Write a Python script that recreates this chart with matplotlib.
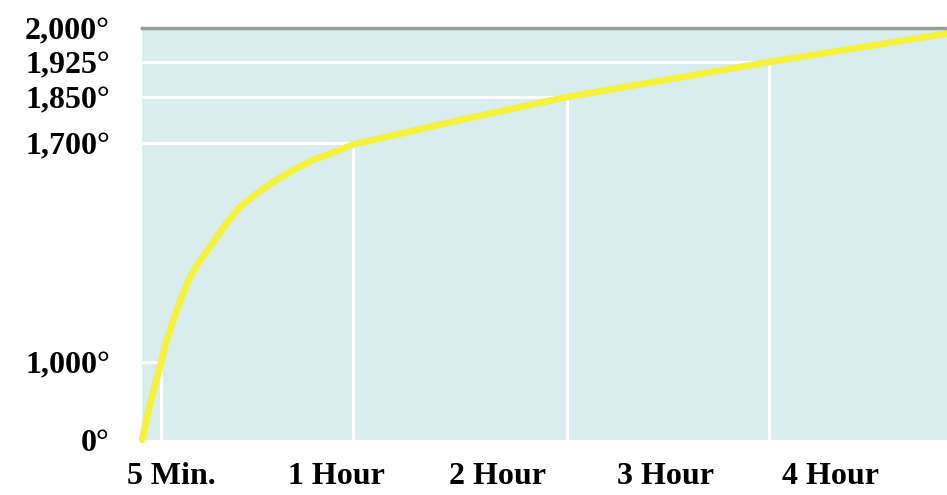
import numpy as np
import matplotlib
matplotlib.use("Agg")
import matplotlib.pyplot as plt

# time-temperature curve (minutes, degrees)
time_min = [0, 2.1, 5, 6.6, 8.5, 10.9, 13.3, 16.2, 19, 23.3, 27.6, 32.4, 37.2,
            42.9, 48.6, 54.4, 60, 90, 120, 180, 232]
temp_deg = [0, 470, 1000, 1070, 1134, 1209, 1273, 1326, 1368, 1438, 1496, 1539,
            1576, 1614, 1646, 1670, 1695, 1775, 1850, 1925, 1988]

# marked points (drop lines)
mark_min = [5, 60, 120, 180]
mark_deg = [1000, 1700, 1850, 1925]

ytick_vals = [0, 1000, 1700, 1850, 1925, 2000]
ytick_labels = ["0°", "1,000°", "1,700°", "1,850°", "1,925°", "2,000°"]
xtick_labels = ["5 Min.", "1 Hour", "2 Hour", "3 Hour", "4 Hour"]

# the drawing is not to a linear scale: piecewise maps
x_knots = [0, 5, 60, 120, 180, 240]
x_pos = [0, 19, 211, 425, 627, 833]
y_knots = [0, 1000, 1700, 1850, 1925, 2000]
y_pos = [0, 78, 297, 343, 378, 412]

def xf(v):
    return np.interp(v, x_knots, x_pos)

def xi(u):
    return np.interp(u, x_pos, x_knots)

def yf(v):
    return np.interp(v, y_knots, y_pos)

def yi(u):
    return np.interp(u, y_pos, y_knots)

plt.rcParams['font.family'] = ['Liberation Serif', 'DejaVu Serif']
plt.rcParams['font.weight'] = 'bold'

fig = plt.figure(figsize=(9.47, 4.95), dpi=100)
ax = fig.add_axes([142/947, 55/495, 805/947, 412/495])
ax.set_facecolor('#d9ecee')
ax.set_xscale('function', functions=(xf, xi))
ax.set_yscale('function', functions=(yf, yi))
ax.set_xlim(0, xi(805))
ax.set_ylim(0, 2000)

ax.hlines(mark_deg, 0, mark_min, colors='white', lw=2.2, zorder=1)
ax.vlines(mark_min, 0, mark_deg, colors='white', lw=2.2, zorder=1)
ax.axhline(2000, color='#9c9c9c', lw=2.5, zorder=3, clip_on=False)

ax.plot(time_min, temp_deg, color='#f4f23a', lw=4.8, solid_capstyle='round',
        solid_joinstyle='round', zorder=2, clip_on=False)

for s in ax.spines.values():
    s.set_visible(False)

ax.set_yticks(ytick_vals)
ax.set_yticklabels(ytick_labels, fontsize=23, fontweight='bold')
ax.tick_params(axis='y', length=0, pad=23)
ax.set_xticks([])

label_x = [0.037, 0.242, 0.442, 0.650, 0.855]
for xp, lab in zip(label_x, xtick_labels):
    ax.text(xp, -0.088, lab, transform=ax.transAxes, ha='center', va='center',
            fontsize=23, fontweight='bold')

fig.savefig("out.png", dpi=100)
